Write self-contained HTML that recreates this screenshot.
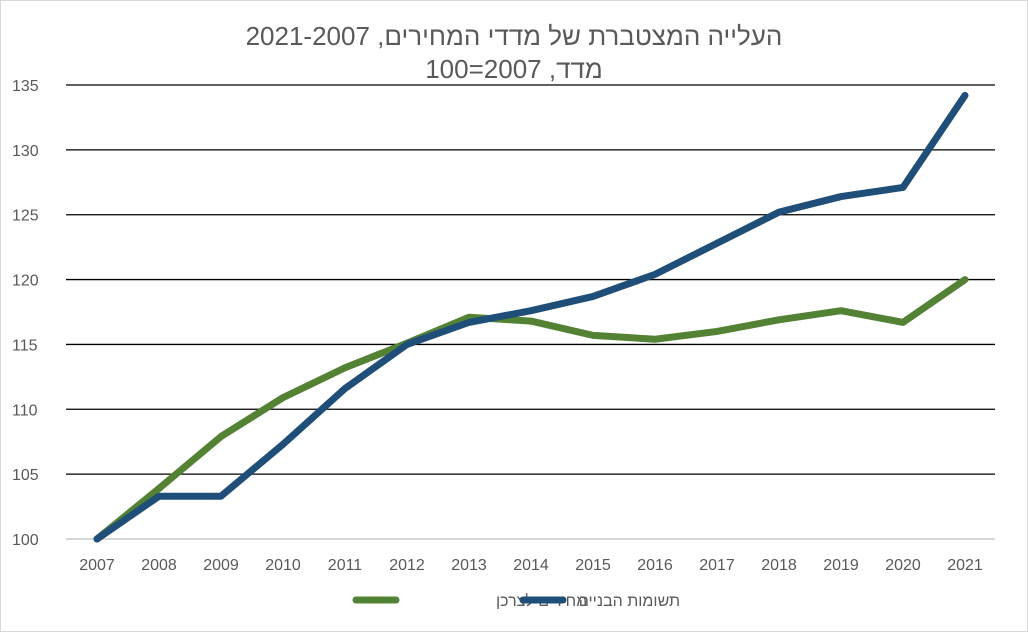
<!DOCTYPE html>
<html><head><meta charset="utf-8"><style>
body{margin:0;background:#fff;}
svg text{font-family:"Liberation Sans","DejaVu Sans",sans-serif;}
</style></head><body>
<svg width="1028" height="632" viewBox="0 0 1028 632" xmlns="http://www.w3.org/2000/svg">
<rect x="0.5" y="0.5" width="1027" height="631" fill="#fff" stroke="#d9d9d9"/>
<text x="514" y="45" font-size="26" fill="#595959" text-anchor="middle" direction="rtl">העלייה המצטברת של מדדי המחירים, 2021-2007</text>
<text x="514" y="78" font-size="26" fill="#595959" text-anchor="middle" direction="rtl">מדד, 2007=100</text>
<g id="grid"></g><g id="yticks"></g><g id="xticks"></g><g id="series"></g>
<g>
<line x1="356" y1="600" x2="396" y2="600" stroke="#548235" stroke-width="7" stroke-linecap="round"/>
<text x="496" y="606" font-size="16" fill="#595959" text-anchor="end" direction="rtl" unicode-bidi="plaintext">מחירים לצרכן</text>
<line x1="523" y1="600" x2="563" y2="600" stroke="#1f4e79" stroke-width="7" stroke-linecap="round"/>
<text x="680" y="606" font-size="16" fill="#595959" text-anchor="end">תשומות הבנייה</text>
</g>
</svg>
<script>
const categories=[2007,2008,2009,2010,2011,2012,2013,2014,2015,2016,2017,2018,2019,2020,2021];
const consumerPrices=[100,103.9,107.9,110.9,113.2,115.1,117.1,116.8,115.7,115.4,116.0,116.9,117.6,116.7,120.0];
const constructionInputs=[100,103.3,103.3,107.3,111.6,115.0,116.7,117.6,118.7,120.4,122.8,125.2,126.4,127.1,134.2];
const yTickLabels=[100,105,110,115,120,125,130,135];
const NS="http://www.w3.org/2000/svg";
const x=i=>97+i*62;
const y=v=>539-(v-100)*(454/35);
function mk(tag,attrs,parent){const e=document.createElementNS(NS,tag);for(const k in attrs)e.setAttribute(k,attrs[k]);document.getElementById(parent).appendChild(e);return e;}
yTickLabels.forEach(t=>{
 const l=mk('line',{x1:66,x2:995,y1:y(t),y2:y(t),stroke:t===100?'#bfbfbf':'#000','stroke-width':1.3},'grid');
 
 
 const tx=mk('text',{x:12,y:y(t)+6,'font-size':16,fill:'#595959'},'yticks');
 tx.textContent=t;
 
 
});
categories.forEach((c,i)=>{
 const tx=mk('text',{x:x(i),y:570,'font-size':16,fill:'#595959','text-anchor':'middle'},'xticks');
 tx.textContent=c;
 
 
});
function line(vals,color,name){
 const p=mk('polyline',{points:vals.map((v,i)=>x(i)+','+y(v)).join(' '),fill:'none',stroke:color,'stroke-width':7,'stroke-linejoin':'round','stroke-linecap':'round'},'series');
 
 
}
line(consumerPrices,'#548235','consumer-prices-line');
line(constructionInputs,'#1f4e79','construction-inputs-line');
</script>
</body></html>
